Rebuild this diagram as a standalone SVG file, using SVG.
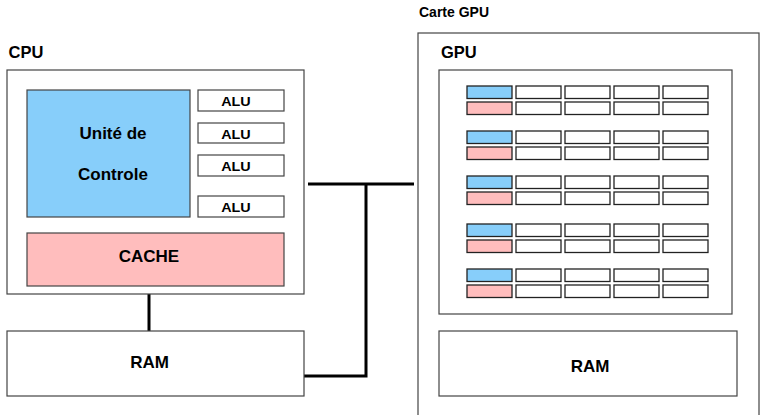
<svg xmlns="http://www.w3.org/2000/svg" width="761" height="415" viewBox="0 0 761 415">
  <defs>
    <!-- one pair of GPU core rows: blue control cell + four white ALU cells, pink cache cell + four white cells -->
    <g id="core-pair">
      <rect class="cell ctl" x="467" y="0" width="45" height="12.5"/>
      <rect class="cell" x="516" y="0" width="45" height="12.5"/>
      <rect class="cell" x="565" y="0" width="45" height="12.5"/>
      <rect class="cell" x="614" y="0" width="45" height="12.5"/>
      <rect class="cell" x="663" y="0" width="45" height="12.5"/>
      <rect class="cell cache" x="467" y="16" width="45" height="12.5"/>
      <rect class="cell" x="516" y="16" width="45" height="12.5"/>
      <rect class="cell" x="565" y="16" width="45" height="12.5"/>
      <rect class="cell" x="614" y="16" width="45" height="12.5"/>
      <rect class="cell" x="663" y="16" width="45" height="12.5"/>
    </g>
  </defs>
  <style>
    .box { fill: #ffffff; stroke: #444444; stroke-width: 1.2; }
    .ctl { fill: #87cefa; }
    .cache { fill: #ffbdbd; }
    .cell { stroke: #222222; stroke-width: 1.3; }
    .cell:not(.ctl):not(.cache) { fill: #ffffff; }
    .wire { fill: none; stroke: #000000; stroke-width: 3; }
    text { font-family: "Liberation Sans", Arial, sans-serif; font-weight: bold; fill: #000000; }
    .lbl { font-size: 17px; text-anchor: middle; }
    .alu { font-size: 12.5px; text-anchor: middle; }
    .title { font-size: 16.5px; }
  </style>

  <rect width="761" height="415" fill="#ffffff"/>

  <!-- connectors -->
  <g id="connectors">
    <line class="wire" x1="149" y1="294" x2="149" y2="331"/>
    <polyline class="wire" points="304,376 366,376 366,184"/>
    <line class="wire" x1="308" y1="184" x2="414" y2="184"/>
  </g>

  <!-- CPU -->
  <g id="cpu">
    <text class="title" x="8.5" y="58">CPU</text>
    <rect class="box" x="7" y="70" width="297" height="224"/>
  </g>
  <g id="control-unit">
    <rect class="box ctl" x="27" y="90" width="163" height="127"/>
    <text class="lbl" x="113" y="139">Unité de</text>
    <text class="lbl" x="113" y="180">Controle</text>
  </g>
  <g id="alu-1">
    <rect class="box" x="198" y="90" width="86" height="21"/>
    <text class="alu" x="236" y="106" textLength="29.5" lengthAdjust="spacingAndGlyphs">ALU</text>
  </g>
  <g id="alu-2">
    <rect class="box" x="198" y="123" width="86" height="20"/>
    <text class="alu" x="236" y="138.5" textLength="29.5" lengthAdjust="spacingAndGlyphs">ALU</text>
  </g>
  <g id="alu-3">
    <rect class="box" x="198" y="155" width="86" height="21"/>
    <text class="alu" x="236" y="171" textLength="29.5" lengthAdjust="spacingAndGlyphs">ALU</text>
  </g>
  <g id="alu-4">
    <rect class="box" x="198" y="196" width="86" height="21"/>
    <text class="alu" x="236" y="212" textLength="29.5" lengthAdjust="spacingAndGlyphs">ALU</text>
  </g>
  <g id="cpu-cache">
    <rect class="box cache" x="27" y="233" width="257" height="53"/>
    <text class="lbl" x="149" y="262">CACHE</text>
  </g>
  <g id="cpu-ram">
    <rect class="box" x="7" y="331" width="297" height="65"/>
    <text class="lbl" x="149.5" y="368">RAM</text>
  </g>

  <!-- GPU card -->
  <g id="gpu-card">
    <text x="419" y="17" font-size="14">Carte GPU</text>
    <rect class="box" x="418" y="33" width="341" height="400"/>
  </g>
  <g id="gpu">
    <text class="title" x="441" y="58">GPU</text>
    <rect class="box" x="439" y="70" width="293" height="244"/>
    <use href="#core-pair" transform="translate(0,86)"/>
    <use href="#core-pair" transform="translate(0,131)"/>
    <use href="#core-pair" transform="translate(0,176)"/>
    <use href="#core-pair" transform="translate(0,224)"/>
    <use href="#core-pair" transform="translate(0,269)"/>
  </g>
  <g id="gpu-ram">
    <rect class="box" x="439" y="331" width="298" height="65"/>
    <text class="lbl" x="590" y="372">RAM</text>
  </g>
</svg>
